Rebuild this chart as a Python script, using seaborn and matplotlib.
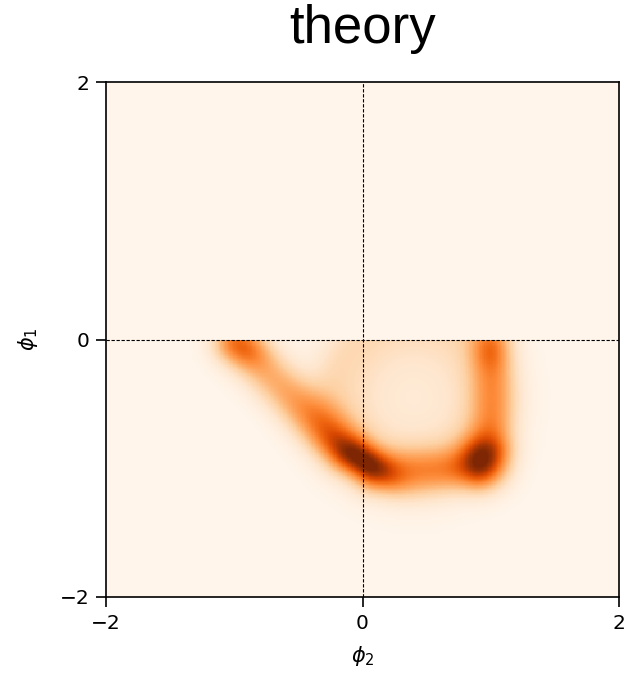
import numpy as np
import pandas as pd
import seaborn as sns
import matplotlib.pyplot as plt

# ridge segments of the density (phi2, phi1 coordinates)
ridge_x0 = [-0.97, 0.10, 1.01]
ridge_y0 = [-0.03, -1.02, -0.80]
ridge_x1 = [-0.15, 0.85, 1.01]
ridge_y1 = [-0.85, -1.00, -0.05]
ridge_sigma = [0.13, 0.12, 0.12]
ridge_amp = [0.36, 0.33, 0.31]

# local maxima (hot spots) and the broadened lower part of the diagonal
blob_x = [-0.94, -0.32, 0.01, 0.95, 1.00]
blob_y = [-0.06, -0.66, -0.94, -0.95, -0.08]
blob_major = [0.14, 0.22, 0.19, 0.14, 0.11]
blob_minor = [0.10, 0.13, 0.09, 0.13, 0.09]
blob_angle = [-20, -45, -31, -60, 90]
blob_amp = [0.28, 0.12, 0.52, 0.55, 0.15]

# faint filled interior
inner_x, inner_y, inner_r, inner_amp = 0.40, -0.45, 0.72, 0.32

edges = np.linspace(-2, 2, 401)
centers = (edges[:-1] + edges[1:]) / 2
X, Y = np.meshgrid(centers, centers)

dens = np.zeros_like(X)
for x0, y0, x1, y1, s, a in zip(ridge_x0, ridge_y0, ridge_x1, ridge_y1, ridge_sigma, ridge_amp):
    dx, dy = x1 - x0, y1 - y0
    t = np.clip(((X - x0) * dx + (Y - y0) * dy) / (dx * dx + dy * dy), 0, 1)
    d2 = (X - (x0 + t * dx)) ** 2 + (Y - (y0 + t * dy)) ** 2
    dens += a * np.exp(-d2 / (2 * s * s))
for cx, cy, sa, sb, ang, a in zip(blob_x, blob_y, blob_major, blob_minor, blob_angle, blob_amp):
    th = np.deg2rad(ang)
    u = (X - cx) * np.cos(th) + (Y - cy) * np.sin(th)
    v = -(X - cx) * np.sin(th) + (Y - cy) * np.cos(th)
    dens += a * np.exp(-(u ** 2 / (2 * sa * sa) + v ** 2 / (2 * sb * sb)))
r = np.hypot(X - inner_x, Y - inner_y)
dens += inner_amp * (0.3 + 0.7 * (r / inner_r) ** 2) / (1 + np.exp((r - inner_r) / 0.08))
dens[Y > 0] = 0

df = pd.DataFrame({'phi2': X.ravel(), 'phi1': Y.ravel(), 'p': dens.ravel()})

fig = plt.figure(figsize=(6.31, 6.75), dpi=100)
ax = fig.add_axes([106 / 631, 1 - 597 / 675, 513 / 631, 515 / 675])

sns.histplot(data=df, x='phi2', y='phi1', weights='p', bins=[edges, edges],
             cmap='Oranges', thresh=None, vmin=0, vmax=1.0, ax=ax)

ax.axhline(0, color='black', lw=0.8, ls=(0, (3, 1.5)))
ax.axvline(0, color='black', lw=0.8, ls=(0, (3, 1.5)))

ax.set_xlim(-2, 2)
ax.set_ylim(-2, 2)
ax.set_xticks([-2, 0, 2])
ax.set_yticks([-2, 0, 2])
ax.tick_params(labelsize=14.5, length=7, width=1.2, pad=5)
for sp in ax.spines.values():
    sp.set_linewidth(1.2)
ax.set_xlabel(r'$\phi_2$', fontsize=15, labelpad=8)
ax.set_ylabel(r'$\phi_1$', fontsize=15, labelpad=14)

fig.text(362.5 / 631, 1 - 43 / 675, 'theory', ha='center', va='baseline',
         fontsize=38, family='Liberation Sans')

fig.savefig('out.png', dpi=100)
